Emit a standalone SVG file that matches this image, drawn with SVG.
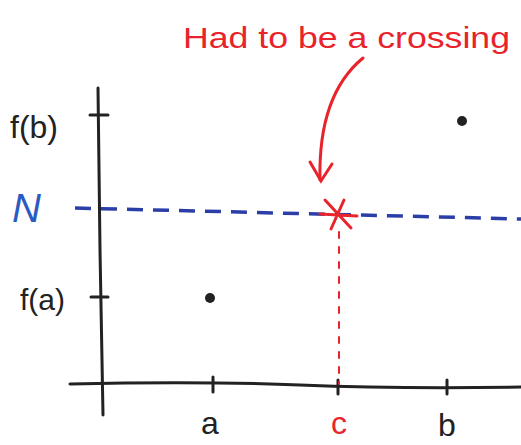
<svg xmlns="http://www.w3.org/2000/svg" width="521" height="445" viewBox="0 0 521 445">
<defs>
<style>
.ink{stroke:#222;stroke-width:3;fill:none;stroke-linecap:round}
.red{stroke:#e8232b;fill:none;stroke-linecap:round}
.blue{stroke:#2b3ea8;stroke-width:3.5;fill:none;stroke-dasharray:16 10}
.lbl{font-family:"Liberation Sans",Arial,sans-serif;fill:#222}
.rt{font-family:"Liberation Sans",Arial,sans-serif;fill:#e8232b}
</style>
</defs>
<rect width="521" height="445" fill="#fff"/>
<g id="axes">
<path class="ink" d="M98 88 L100 250 L103 415"/>
<path class="ink" d="M70 384 Q200 381 300 385 T521 387"/>
</g>
<g id="ticks">
<path class="ink" d="M90 115 H108 M91 297 H108 M213 377 V392 M338 380 V394 M447 380 V394"/>
</g>
<g id="labels">
<text class="lbl" x="10" y="138" font-size="32">f(b)</text>
<text class="lbl" x="20" y="310" font-size="30">f(a)</text>
<text x="12" y="222" font-size="40" font-style="italic" font-family="Liberation Sans,Arial,sans-serif" fill="#2b5bc0">N</text>
<text class="lbl" x="210" y="434" font-size="32" text-anchor="middle">a</text>
<text class="rt" x="339" y="434" font-size="32" text-anchor="middle">c</text>
<text class="lbl" x="447" y="436" font-size="32" text-anchor="middle">b</text>
<text class="rt" x="183" y="48" font-size="30" textLength="327" lengthAdjust="spacingAndGlyphs">Had to be a crossing</text>
</g>
<g id="points">
<circle cx="210" cy="298" r="5" fill="#222"/>
<circle cx="462" cy="121" r="5" fill="#222"/>
</g>
<g id="connectors">
<path class="blue" d="M75 208 L521 219"/>
<path class="red" stroke-width="2" stroke-dasharray="6 9" d="M339 232 V384"/>
<path class="red" stroke-width="3" d="M363 58 Q318 95 320 180"/>
<path class="red" stroke-width="3" d="M310 162 L321 181 L332 164"/>
</g>
<g id="crossing">
<path class="red" stroke-width="3" d="M325 200 L351 228 M344 200 L331 229 M320 214 L357 216"/>
</g>
</svg>
